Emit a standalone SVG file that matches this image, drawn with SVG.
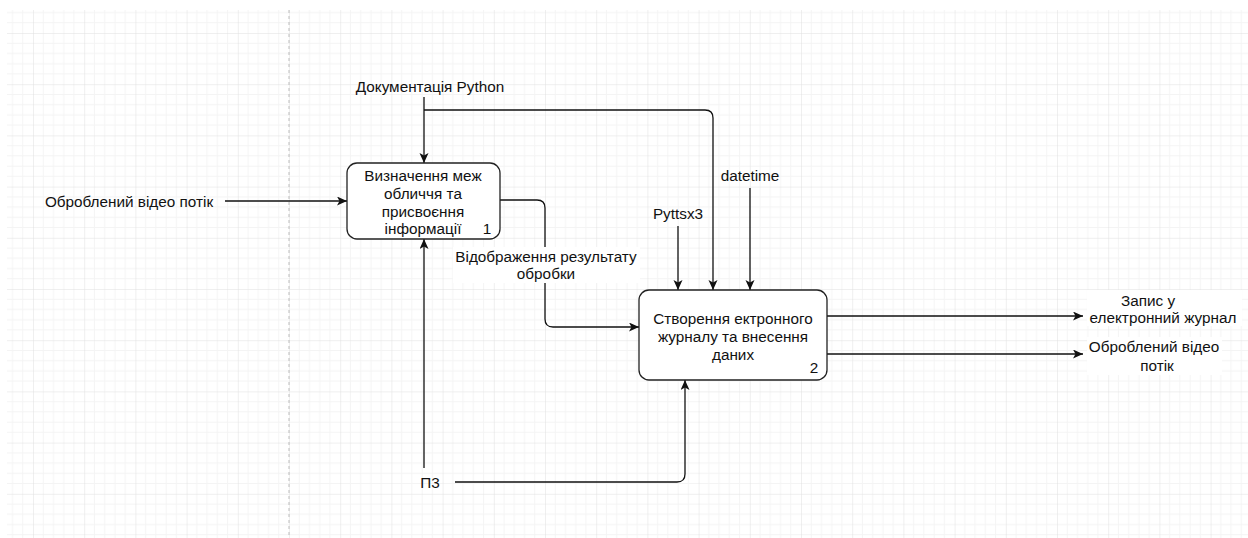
<svg xmlns="http://www.w3.org/2000/svg" width="1248" height="538" viewBox="0 0 1248 538">
  <style>
    .t { font-family: "Liberation Sans", Arial, sans-serif; font-size: 15.3px; fill: #111; text-anchor: middle; dominant-baseline: central; }
    .box { fill: #ffffff; stroke: #222; stroke-width: 1.3; }
    .edge { fill: none; stroke: #111; stroke-width: 1.3; }
    .lbl { fill: #ffffff; }
  </style>
  <defs>
    <pattern id="grid" x="33" y="33" width="51.2" height="51.2" patternUnits="userSpaceOnUse">
      <path d="M10.24,0 V51.2 M20.48,0 V51.2 M30.72,0 V51.2 M40.96,0 V51.2 M0,10.24 H51.2 M0,20.48 H51.2 M0,30.72 H51.2 M0,40.96 H51.2" stroke="#f4f4f4" stroke-width="1" fill="none"/>
      <path d="M0,0 V51.2 M0,0 H51.2" stroke="#e0e0e0" stroke-width="1" fill="none"/>
    </pattern>
    <marker id="arr" markerWidth="12" markerHeight="10" refX="10" refY="4.5" orient="auto" markerUnits="userSpaceOnUse">
      <path d="M0,0 L10,4.5 L0,9 L2.5,4.5 Z" fill="#111"/>
    </marker>
  </defs>
  <rect x="0" y="0" width="1248" height="538" fill="#ffffff"/>
  <rect x="7" y="10" width="1241" height="528" fill="url(#grid)"/>
  <line x1="289" y1="10" x2="289" y2="538" stroke="#bdbdbd" stroke-width="1" stroke-dasharray="3,3"/>

  <g id="connectors">
    <path class="edge" d="M424,97 V163" marker-end="url(#arr)"/>
    <path class="edge" d="M424,110 H705 Q713,110 713,118 V290" marker-end="url(#arr)"/>
    <path class="edge" d="M750,188 V290" marker-end="url(#arr)"/>
    <path class="edge" d="M678,226 V290" marker-end="url(#arr)"/>
    <path class="edge" d="M225,201 H347" marker-end="url(#arr)"/>
    <path class="edge" d="M500,200 H537 Q545,200 545,208 V319 Q545,327 553,327 H639" marker-end="url(#arr)"/>
    <path class="edge" d="M424,468 V239" marker-end="url(#arr)"/>
    <path class="edge" d="M455,482 H677 Q685,482 685,474 V380" marker-end="url(#arr)"/>
    <path class="edge" d="M827,316 H1083" marker-end="url(#arr)"/>
    <path class="edge" d="M827,354 H1083" marker-end="url(#arr)"/>
    <rect class="lbl" x="453" y="247" width="187" height="36"/>
    <text class="t" x="546" y="256">Відображення результату</text>
    <text class="t" x="546" y="273">обробки</text>
  </g>

  <g id="node1">
    <rect class="box" x="347" y="163" width="153" height="76" rx="10" ry="10"/>
    <text class="t" x="423" y="175">Визначення меж</text>
    <text class="t" x="423" y="193">обличчя та</text>
    <text class="t" x="423" y="211">присвоєння</text>
    <text class="t" x="423" y="228">інформації</text>
    <text class="t" x="487" y="228">1</text>
  </g>

  <g id="node2">
    <rect class="box" x="639" y="290" width="188" height="90" rx="10" ry="10"/>
    <text class="t" x="733" y="318">Створення ектронного</text>
    <text class="t" x="733" y="336">журналу та внесення</text>
    <text class="t" x="733" y="354">даних</text>
    <text class="t" x="814" y="367">2</text>
  </g>

  <g id="label-doc"><text class="t" x="430" y="86">Документація Python</text></g>
  <g id="label-datetime"><text class="t" x="750" y="175">datetime</text></g>
  <g id="label-pyttsx3"><text class="t" x="678" y="213">Pyttsx3</text></g>
  <g id="label-input"><text class="t" x="129" y="201">Оброблений відео потік</text></g>
  <g id="label-pz"><text class="t" x="430" y="482">П3</text></g>
  <g id="label-out1">
    <rect class="lbl" x="1087" y="290" width="155" height="36"/>
    <text class="t" x="1148" y="300">Запис у</text>
    <text class="t" x="1163" y="317">електронний журнал</text>
  </g>
  <g id="label-out2">
    <rect class="lbl" x="1087" y="337" width="135" height="38"/>
    <text class="t" x="1154" y="346">Оброблений відео</text>
    <text class="t" x="1157" y="365">потік</text>
  </g>
</svg>
